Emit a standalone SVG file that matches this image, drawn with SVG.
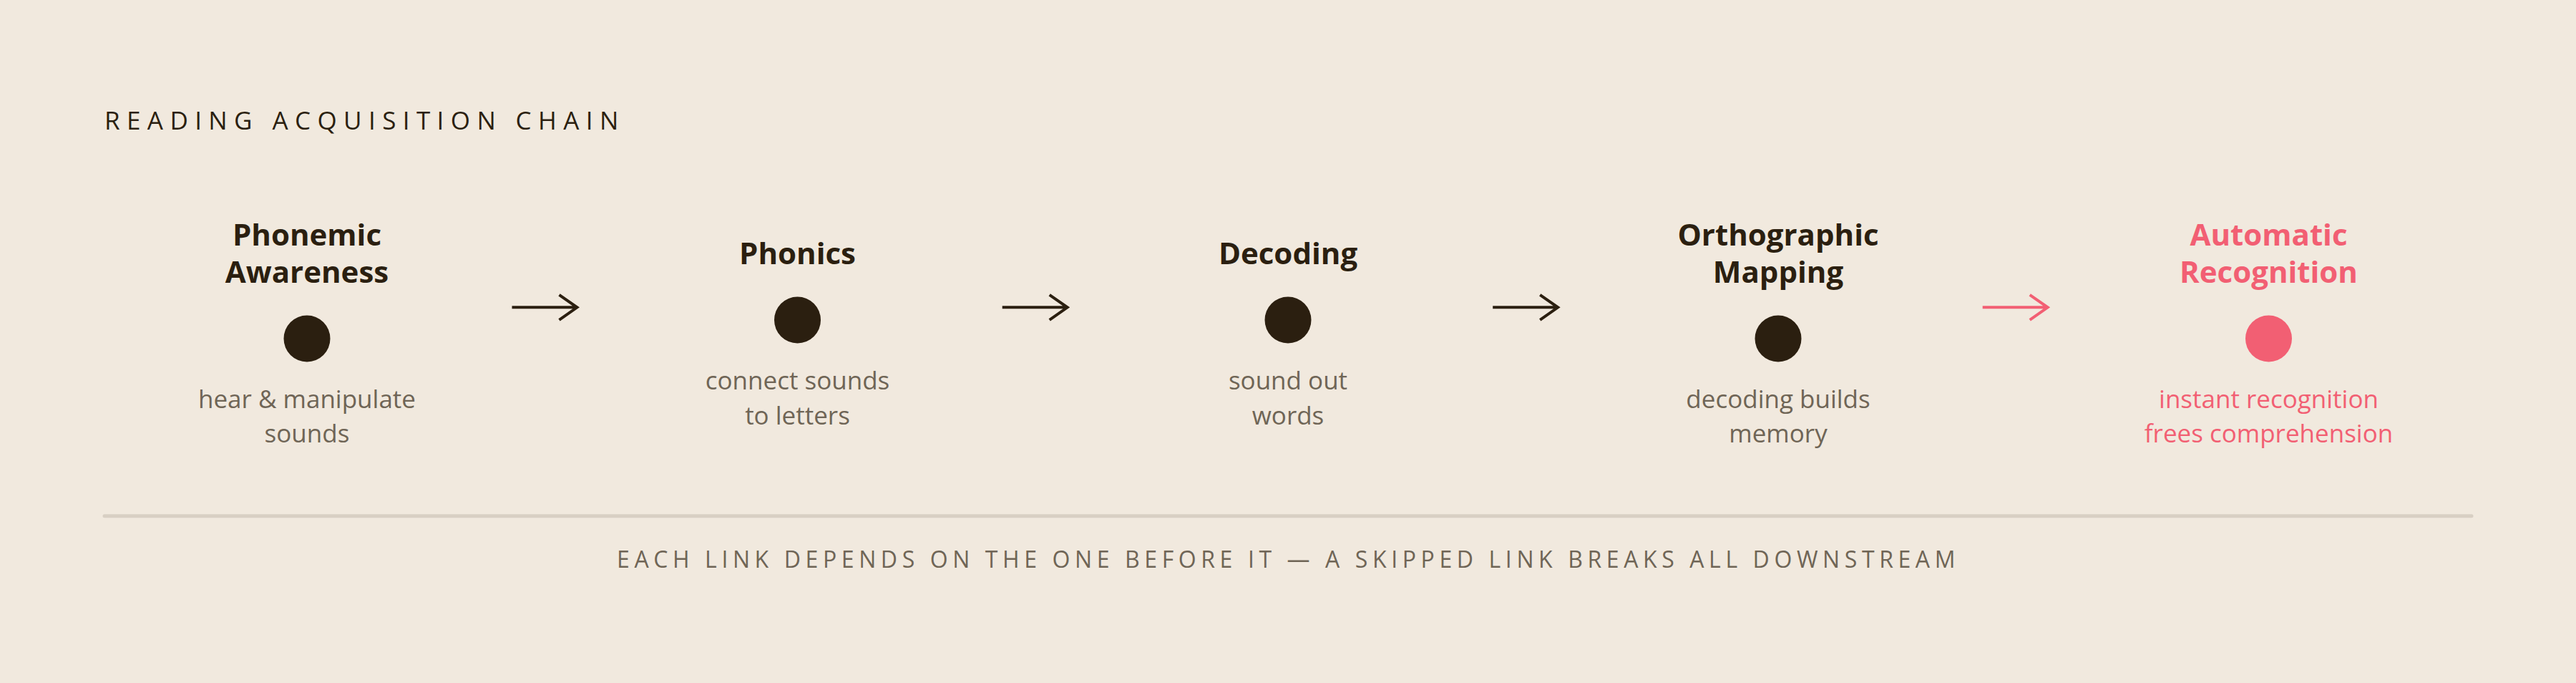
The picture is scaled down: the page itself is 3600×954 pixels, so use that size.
<svg xmlns="http://www.w3.org/2000/svg" width="3600" height="954" viewBox="0 0 3600 954">
<style>
.bg{fill:#f1e9de}
.head{font-family:"Open Sans","Noto Sans",sans-serif;font-size:35px;font-weight:400;letter-spacing:9.4px;fill:#2b1f10}
.ttl{font-family:"Open Sans","Noto Sans",sans-serif;font-size:42px;font-weight:700;fill:#2b1f10;text-anchor:middle}
.dsc{font-family:"Open Sans","Noto Sans",sans-serif;font-size:35px;font-weight:400;fill:#6f6556;text-anchor:middle}
.dot{fill:#2b1f10}
.hot .ttl,.hot .dsc{fill:#f25f73}
.hot .dot{fill:#f25f73}
.arr{fill:none;stroke:#2b1f10;stroke-width:4;stroke-linejoin:miter}
.arr.hot{stroke:#f25f73}
.foot{font-family:"Open Sans","Noto Sans",sans-serif;font-size:32px;font-weight:400;letter-spacing:6.6px;fill:#6f6556}
</style>
<rect class="bg" x="0" y="0" width="3600" height="954"/>
<text class="head" x="146" y="181">READING ACQUISITION CHAIN</text>

<g id="node-phonemic-awareness">
<text class="ttl" x="429" y="343">Phonemic</text>
<text class="ttl" x="429" y="395">Awareness</text>
<circle class="dot" cx="429" cy="473" r="32.5"/>
<text class="dsc" x="429" y="569.5">hear &amp; manipulate</text>
<text class="dsc" x="429" y="618">sounds</text>
</g>

<g id="node-phonics">
<text class="ttl" x="1114.5" y="369">Phonics</text>
<circle class="dot" cx="1114.5" cy="447" r="32.5"/>
<text class="dsc" x="1114.5" y="543.5">connect sounds</text>
<text class="dsc" x="1114.5" y="592.5">to letters</text>
</g>

<g id="node-decoding">
<text class="ttl" x="1800" y="369">Decoding</text>
<circle class="dot" cx="1800" cy="447" r="32.5"/>
<text class="dsc" x="1800" y="543.5">sound out</text>
<text class="dsc" x="1800" y="592.5">words</text>
</g>

<g id="node-orthographic-mapping">
<text class="ttl" x="2485" y="343">Orthographic</text>
<text class="ttl" x="2485" y="395">Mapping</text>
<circle class="dot" cx="2485" cy="473" r="32.5"/>
<text class="dsc" x="2485" y="569.5">decoding builds</text>
<text class="dsc" x="2485" y="618">memory</text>
</g>

<g id="node-automatic-recognition" class="hot">
<text class="ttl" x="3170.5" y="343">Automatic</text>
<text class="ttl" x="3170.5" y="395">Recognition</text>
<circle class="dot" cx="3170.5" cy="473" r="32.5"/>
<text class="dsc" x="3170.5" y="569.5">instant recognition</text>
<text class="dsc" x="3170.5" y="618">frees comprehension</text>
</g>

<g id="connectors">
<path class="arr" transform="translate(715.5 429.3)" d="M0 0 H91 M66 -17.5 L91 0 L66 17.5"/>
<path class="arr" transform="translate(1400.7 429.3)" d="M0 0 H91 M66 -17.5 L91 0 L66 17.5"/>
<path class="arr" transform="translate(2086.2 429.3)" d="M0 0 H91 M66 -17.5 L91 0 L66 17.5"/>
<path class="arr hot" transform="translate(2770.7 429.3)" d="M0 0 H91 M66 -17.5 L91 0 L66 17.5"/>
</g>

<line x1="146" y1="720.8" x2="3454" y2="720.8" stroke="#d8cfc3" stroke-width="5" stroke-linecap="round"/>
<text class="foot" x="862" y="793">EACH LINK DEPENDS ON THE ONE BEFORE IT — A SKIPPED LINK BREAKS ALL DOWNSTREAM</text>
</svg>
